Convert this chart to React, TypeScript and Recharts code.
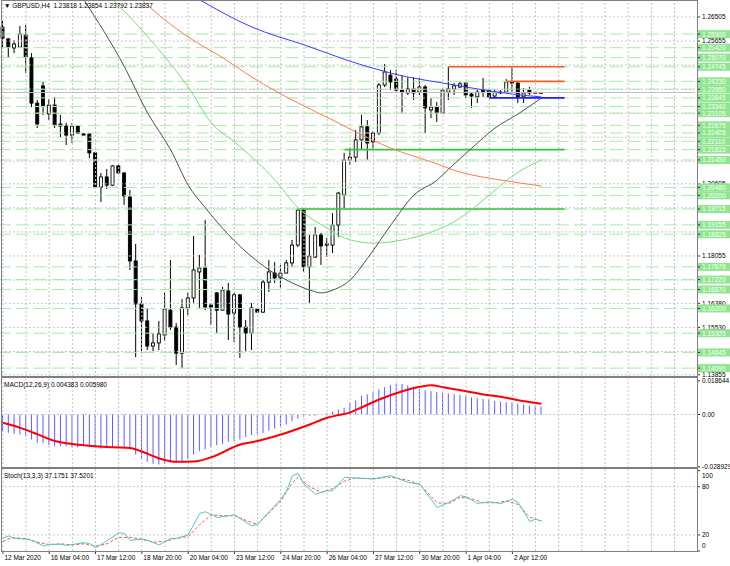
import React from 'react';
import { ComposedChart, Bar, Line, XAxis, YAxis, ReferenceLine } from 'recharts';

const FONT = '"Liberation Sans", Arial, sans-serif';
const FS = 6.5;
const SLOTS = 120;
const AXIS_X = 697;

// H4 candles, 12 Mar 20:00 .. 3 Apr 08:00
const opens = [1.2615,1.2573,1.2541,1.2544,1.2587,1.2506,1.2346,1.2407,1.2308,1.2339,
  1.2272,1.2265,1.2233,1.2265,1.2237,1.2237,1.2170,1.2049,1.2085,1.2056,
  1.2124,1.2099,1.2014,1.1788,1.1636,1.1576,1.1487,1.1498,1.1526,1.1614,
  1.1554,1.1462,1.1622,1.1657,1.1749,1.1763,1.1632,1.1675,1.1614,1.1682,
  1.1604,1.1668,1.1554,1.1533,1.1618,1.1607,1.1713,1.1745,1.1728,1.1745,
  1.1781,1.1844,1.1968,1.1767,1.1802,1.1880,1.1848,1.1844,1.1915,1.2021,
  1.2145,1.2155,1.2216,1.2262,1.2209,1.2240,1.2410,1.2445,1.2431,1.2392,
  1.2382,1.2396,1.2385,1.2403,1.2322,1.2332,1.2311,1.2385,1.2396,1.2403,
  1.2417,1.2378,1.2368,1.2392,1.2392,1.2371,1.2385,1.2385,1.2421,1.2417,
  1.2368,1.2392,1.2383,1.23818];
const highs = [1.2636,1.2576,1.2569,1.2619,1.2622,1.2523,1.2357,1.2421,1.2361,1.2368,
  1.2304,1.2276,1.2276,1.2269,1.2240,1.2240,1.2173,1.2099,1.2113,1.2127,
  1.2127,1.2102,1.2039,1.1848,1.1660,1.1622,1.1533,1.1576,1.1675,1.1791,
  1.1568,1.1653,1.1675,1.1876,1.1809,1.1933,1.1639,1.1678,1.1696,1.1710,
  1.1675,1.1671,1.1579,1.1639,1.1622,1.1721,1.1791,1.1784,1.1774,1.1791,
  1.1862,1.1975,1.1975,1.1880,1.1908,1.1887,1.1869,1.1957,1.2032,1.2170,
  1.2187,1.2251,1.2304,1.2286,1.2247,1.2417,1.2484,1.2463,1.2463,1.2445,
  1.2438,1.2438,1.2435,1.2410,1.2364,1.2350,1.2399,1.2477,1.2417,1.2421,
  1.2417,1.2385,1.2396,1.2435,1.2396,1.2396,1.2392,1.2431,1.2474,1.2421,
  1.2399,1.2403,1.2386,1.23854];
const lows = [1.2544,1.2509,1.2523,1.2544,1.2452,1.2332,1.2258,1.2304,1.2286,1.2258,
  1.2226,1.2198,1.2205,1.2237,1.2233,1.2152,1.2046,1.1996,1.2042,1.2053,
  1.2099,1.1986,1.1756,1.1448,1.1462,1.1473,1.1469,1.1473,1.1505,1.1544,
  1.1420,1.1409,1.1597,1.1639,1.1622,1.1614,1.1561,1.1533,1.1614,1.1508,
  1.1501,1.1445,1.1466,1.1473,1.1605,1.1604,1.1678,1.1710,1.1692,1.1745,
  1.1767,1.1837,1.1749,1.1639,1.1798,1.1774,1.1802,1.1816,1.1873,1.1975,
  1.2127,1.2138,1.2180,1.2145,1.2180,1.2233,1.2403,1.2392,1.2385,1.2311,
  1.2375,1.2357,1.2375,1.2240,1.2293,1.2279,1.2308,1.2357,1.2375,1.2399,
  1.2364,1.2329,1.2346,1.2368,1.2364,1.2368,1.2378,1.2382,1.2382,1.2346,
  1.2346,1.2375,1.2380,1.23792];
const closes = [1.2576,1.2544,1.2555,1.2590,1.2509,1.2346,1.2272,1.2336,1.2339,1.2269,
  1.2265,1.2233,1.2265,1.2240,1.2233,1.2170,1.2049,1.2085,1.2056,1.2124,
  1.2099,1.2018,1.1788,1.1636,1.1576,1.1487,1.1498,1.1530,1.1618,1.1554,
  1.1462,1.1622,1.1657,1.1756,1.1763,1.1625,1.1625,1.1614,1.1685,1.1600,
  1.1668,1.1554,1.1533,1.1622,1.1607,1.1713,1.1749,1.1728,1.1745,1.1781,
  1.1844,1.1968,1.1767,1.1805,1.1880,1.1841,1.1844,1.1915,1.2028,1.2145,
  1.2155,1.2216,1.2262,1.2205,1.2240,1.2410,1.2456,1.2421,1.2392,1.2385,
  1.2396,1.2382,1.2403,1.2329,1.2332,1.2311,1.2392,1.2396,1.2407,1.2414,
  1.2375,1.2371,1.2385,1.2385,1.2368,1.2385,1.2382,1.2421,1.2417,1.2368,
  1.2382,1.2382,1.2384,1.23837];

// moving averages, read at a few bars
const maBlack: [number, number][] = [[14,1.2711],[21,1.2474],[25,1.2311],[29,1.2180],[32,1.2056],[35,1.1975],
  [39,1.1880],[46,1.1756],[50,1.1710],[53,1.1685],[55,1.1675],[57,1.1685],[60,1.1721],[63,1.1798],[67,1.1915],
  [71,1.2021],[75,1.2074],[77,1.2113],[81,1.2187],[85,1.2258],[89,1.2308],[93,1.2364]];
const maGreen: [number, number][] = [[19,1.2711],[24,1.2605],[28,1.2509],[32,1.2403],[36,1.2276],[40,1.2209],
  [47,1.2074],[51,1.1975],[56,1.1904],[59,1.1869],[64,1.1851],[69,1.1862],[74,1.1890],[79,1.1940],[84,1.2021],
  [89,1.2102],[93,1.2145]];
const maOrange: [number, number][] = [[24,1.2711],[28,1.2640],[32,1.2580],[38,1.2506],[43,1.2438],[51,1.2346],
  [57,1.2286],[62,1.2233],[67,1.2187],[74,1.2138],[79,1.2102],[86,1.2074],[93,1.2053]];
const maBlue: [number, number][] = [[34,1.2711],[43,1.2615],[52,1.2552],[62,1.2481],[70,1.2438],[76,1.2417],
  [82,1.2396],[88,1.2378],[93,1.2368]];

const levelPrices = [1.25900,1.25420,1.25070,1.24745,1.24230,1.23950,1.23645,1.23340,1.23105,1.22675,
  1.22405,1.22110,1.21815,1.21450,1.20480,1.20200,1.19715,1.19155,1.18825,1.17670,1.17220,1.16870,
  1.16200,1.15325,1.14645,1.14090];
const gridPrices = [1.26505,1.25655,1.24805,1.23955,1.23105,1.22255,1.21405,1.20605,1.19755,1.18905,
  1.18055,1.17205,1.16380,1.15530,1.14680,1.13855];
const gridPriceLabels = [1.26505,1.25655,1.20605,1.18055,1.16380,1.15530,1.13855];
const bidPrice = 1.23837;

// drawn objects: [fromBar, toBar, price, colour]
const drawnLines: [number, number, number, string][] = [
  [77, 97, 1.24745, '#ff5a1e'],
  [87, 97, 1.24230, '#ff5a1e'],
  [84, 97, 1.23645, '#1e1eff'],
  [59, 97, 1.21815, '#32c832'],
  [51, 97, 1.19715, '#32c832'],
];

const macdHist = [-0.0092,-0.0101,-0.0107,-0.0111,-0.0120,-0.0138,-0.0157,-0.0157,-0.0170,-0.0175,
  -0.0175,-0.0175,-0.0181,-0.0181,-0.0175,-0.0181,-0.0184,-0.0188,-0.0184,-0.0184,
  -0.0184,-0.0181,-0.0194,-0.0221,-0.0249,-0.0262,-0.0273,-0.0277,-0.0273,-0.0267,
  -0.0267,-0.0258,-0.0243,-0.0221,-0.0203,-0.0194,-0.0181,-0.0170,-0.0162,-0.0151,
  -0.0148,-0.0138,-0.0125,-0.0114,-0.0107,-0.0101,-0.0088,-0.0077,-0.0065,-0.0055,
  -0.0037,-0.0022,-0.0011,-0.0007,-0.0007,-0.0002,0.0007,0.0015,0.0028,0.0037,
  0.0065,0.0077,0.0103,0.0111,0.0123,0.0138,0.0151,0.0162,0.0168,0.0168,
  0.0162,0.0153,0.0142,0.0134,0.0129,0.0123,0.0120,0.0116,0.0114,0.0109,
  0.0101,0.0094,0.0090,0.0087,0.0083,0.0074,0.0072,0.0068,0.0068,0.0061,
  0.0055,0.0050,0.0050,0.0044];
const macdSignal: [number, number][] = [[0,-0.0046],[3,-0.0074],[6,-0.0110],[9,-0.0147],[14,-0.0170],[19,-0.0181],
  [22,-0.0185],[24,-0.0205],[27,-0.0243],[30,-0.0262],[33,-0.0260],[36,-0.0236],[41,-0.0166],[44,-0.0147],
  [48,-0.0111],[53,-0.0055],[56,-0.0018],[58,-0.0003],[60,0.0012],[62,0.0040],[65,0.0083],[69,0.0129],
  [72,0.0153],[74,0.0162],[76,0.0151],[79,0.0134],[83,0.0111],[86,0.0098],[89,0.0079],[93,0.0060]];

const stochMain: [number, number][] = [[0,15.8],[1,18.8],[2,15.8],[4,14.6],[5,13.3],[7,6.3],[8,8.3],[10,8.3],
  [11,7],[14,10.4],[15,9.2],[16,4.2],[17,8.3],[19,17.5],[20,22.9],[21,21.7],[22,13.3],[24,14.6],[25,13.3],
  [27,7.5],[29,15.8],[30,15.8],[32,20],[34,46.7],[35,48.8],[37,41.7],[39,43.8],[40,45],[43,31.3],[44,33.3],
  [48,64.6],[49,75],[50,93.8],[51,96.7],[52,83.3],[54,70.8],[56,75],[57,75],[59,91.7],[61,90.8],[64,89.6],
  [67,93.8],[70,85.4],[72,83.3],[75,54.2],[77,60.4],[79,68.8],[80,67.5],[82,59.2],[84,61.3],[86,59.2],
  [88,64.6],[89,60.4],[91,36.7],[92,39.6],[93,37.2]];
const stochSignal: [number, number][] = [[0,12],[1,15],[2,16.5],[4,15.5],[6,11],[8,8],[10,9],[12,7.5],[14,9],
  [16,6],[18,9],[20,17],[22,17],[24,14.6],[26,11],[28,12],[30,15.8],[32,18],[34,33],[36,45],[38,44],[40,44],
  [42,38],[44,33],[46,48],[48,62],[50,85],[51,92],[53,80],[55,73],[57,78],[59,87],[61,91],[64,90],[67,92],
  [70,88],[72,83],[75,60],[77,59],[79,67],[81,65],[83,60],[85,60],[87,62],[89,58],[91,42],[93,37.5]];

const timeBars = [0, 8, 16, 24, 32, 40, 48, 56, 64, 72, 80, 88];
const timeLabels = ['12 Mar 2020', '16 Mar 04:00', '17 Mar 12:00', '18 Mar 20:00', '20 Mar 04:00',
  '23 Mar 12:00', '24 Mar 20:00', '26 Mar 04:00', '27 Mar 12:00', '30 Mar 20:00', '1 Apr 04:00', '2 Apr 12:00'];

const gridBars = Array.from({ length: 30 }, (_, n) => n * 4);

const mBlack = new Map(maBlack), mGreen = new Map(maGreen), mOrange = new Map(maOrange), mBlue = new Map(maBlue);
const mSig = new Map(macdSignal), mStK = new Map(stochMain), mStD = new Map(stochSignal);

const data = Array.from({ length: SLOTS }, (_, i) => {
  const has = i < opens.length;
  return {
    i,
    candle: has ? [lows[i], highs[i]] : null,
    o: has ? opens[i] : null,
    h: has ? highs[i] : null,
    l: has ? lows[i] : null,
    c: has ? closes[i] : null,
    maK: mBlack.get(i) ?? null,
    maG: mGreen.get(i) ?? null,
    maO: mOrange.get(i) ?? null,
    maB: mBlue.get(i) ?? null,
    hist: i < macdHist.length ? macdHist[i] : null,
    sig: mSig.get(i) ?? null,
    k: mStK.get(i) ?? null,
    d: mStD.get(i) ?? null,
  };
});

function Candle(props: any) {
  const { x, y, width, height, payload } = props;
  if (!payload || payload.o == null) return null;
  const { o, h, l, c } = payload;
  const cx = x + width / 2;
  const py = (v: number) => y + ((h - v) / (h - l)) * height;
  const top = py(Math.max(o, c));
  const bot = py(Math.min(o, c));
  return (
    <g>
      <line x1={cx} x2={cx} y1={y} y2={y + height} stroke="#000" strokeWidth={1} />
      <rect x={cx - 1.5} y={top} width={3} height={Math.max(bot - top, 0.8)}
        fill={c > o ? '#fff' : '#000'} stroke="#000" strokeWidth={0.9} />
    </g>
  );
}

const levelSet = new Set(levelPrices);

function PriceTick(props: any) {
  const { y, payload } = props;
  const v = payload.value;
  if (levelSet.has(v)) {
    return (
      <g>
        <rect x={AXIS_X + 1} y={y - 4} width={40} height={8} fill="#8ee68e" />
        <line x1={AXIS_X} x2={AXIS_X + 3} y1={y} y2={y} stroke="#333" />
        <text x={AXIS_X + 5} y={y + 2.4} fontSize={FS} fontFamily={FONT} fill="#fff">{v.toFixed(5)}</text>
      </g>
    );
  }
  return (
    <g>
      <line x1={AXIS_X} x2={AXIS_X + 3} y1={y} y2={y} stroke="#333" />
      <text x={AXIS_X + 5} y={y + 2.4} fontSize={FS} fontFamily={FONT} fill="#000">{v.toFixed(5)}</text>
    </g>
  );
}

function makeTick(fmt: (v: number) => string, shift: (v: number) => number) {
  return function Tick(props: any) {
    const { y, payload } = props;
    const v = payload.value;
    return (
      <g>
        <line x1={AXIS_X} x2={AXIS_X + 3} y1={y} y2={y} stroke="#333" />
        <text x={AXIS_X + 5} y={y + 2.4 + shift(v)} fontSize={FS} fontFamily={FONT} fill="#000">{fmt(v)}</text>
      </g>
    );
  };
}

const MacdTick = makeTick(v => (v === 0 ? '0.00' : v.toFixed(6)), () => 0);
const StochTick = makeTick(v => String(v), v => (v === 100 ? 5 : v === 0 ? -5 : 0));

// stoch chart: plot ends at 82px, svg is 97px tall
function TimeTick(props: any) {
  const { x, payload } = props;
  const idx = timeBars.indexOf(payload.value);
  return (
    <g>
      <line x1={x} x2={x} y1={82} y2={85} stroke="#333" />
      <text x={x + 1.5} y={91} fontSize={FS} fontFamily={FONT} fill="#000">{timeLabels[idx]}</text>
    </g>
  );
}

const gridStroke = '#c4c4c4';
const vGrid = gridBars.map(b => (
  <ReferenceLine key={'v' + b} x={b} stroke={gridStroke} strokeDasharray="2 2" />
));

const paneTitle: React.CSSProperties = {
  position: 'absolute', left: 4, fontFamily: FONT, fontSize: FS, color: '#000', whiteSpace: 'pre', lineHeight: 1,
};

function Frame({ top, height }: { top: number; height: number }) {
  return <div style={{ position: 'absolute', left: 1, top, width: AXIS_X - 2, height, border: '1px solid #808080', pointerEvents: 'none' }} />;
}

export default function App() {
  const yW = 730 - SLOTS * 5.79;
  return (
    <div style={{ position: 'absolute', left: 0, top: 0, width: 730, height: 566, background: '#fff', overflow: 'hidden' }}>
      <div style={{ position: 'absolute', left: 0, top: 0 }}>
        <ComposedChart width={730} height={378} data={data} margin={{ top: 1, right: 0, bottom: 1, left: 0 }}>
          <XAxis dataKey="i" scale="band" hide />
          <YAxis orientation="right" type="number" domain={[1.13776, 1.27071]} allowDataOverflow width={yW}
            ticks={[...gridPriceLabels, ...levelPrices]} interval={0} tick={<PriceTick />} axisLine={false} tickLine={false} />
          {vGrid}
          {gridPrices.map(p => <ReferenceLine key={'g' + p} y={p} stroke={gridStroke} strokeDasharray="2 2" />)}
          {levelPrices.map(p => <ReferenceLine key={'l' + p} y={p} stroke="#a6eca6" strokeDasharray="13 5" />)}
          <ReferenceLine y={bidPrice} stroke="#c0c0c0" />
          {drawnLines.map(([a, b, p, col]) => (
            <ReferenceLine key={'d' + a + p} segment={[{ x: a, y: p }, { x: b, y: p }]} stroke={col} strokeWidth={1.6} />
          ))}
          <Line dataKey="maB" type="monotone" stroke="#3c3cff" dot={false} connectNulls isAnimationActive={false} />
          <Line dataKey="maO" type="monotone" stroke="#ff7a50" dot={false} connectNulls isAnimationActive={false} />
          <Line dataKey="maG" type="monotone" stroke="#78dc78" dot={false} connectNulls isAnimationActive={false} />
          <Line dataKey="maK" type="monotone" stroke="#505050" dot={false} connectNulls isAnimationActive={false} />
          <Bar dataKey="candle" barSize={5} shape={<Candle />} isAnimationActive={false} />
        </ComposedChart>
      </div>
      <div style={{ position: 'absolute', left: 0, top: 374 }}>
        <ComposedChart width={730} height={99} data={data} margin={{ top: 5, right: 0, bottom: 5, left: 0 }}>
          <XAxis dataKey="i" scale="band" hide />
          <YAxis orientation="right" type="number" domain={[-0.02959, 0.01963]} allowDataOverflow width={yW}
            ticks={[0.018644, 0, -0.028929]} interval={0} tick={<MacdTick />} axisLine={false} tickLine={false} />
          {vGrid}
          <ReferenceLine y={0} stroke={gridStroke} strokeDasharray="2 2" />
          <Bar dataKey="hist" barSize={1} fill="#5c5cff" isAnimationActive={false} />
          <Line dataKey="sig" type="monotone" stroke="#ff0000" strokeWidth={2} dot={false} connectNulls isAnimationActive={false} />
        </ComposedChart>
      </div>
      <div style={{ position: 'absolute', left: 0, top: 469 }}>
        <ComposedChart width={730} height={97} data={data} margin={{ top: 0, right: 0, bottom: 0, left: 0 }}>
          <XAxis dataKey="i" scale="band" height={15} ticks={timeBars} interval={0} tick={<TimeTick />}
            axisLine={false} tickLine={false} />
          <YAxis orientation="right" type="number" domain={[0, 102.1]} allowDataOverflow width={yW}
            ticks={[100, 80, 20, 0]} interval={0} tick={<StochTick />} axisLine={false} tickLine={false} />
          {vGrid}
          <ReferenceLine y={80} stroke={gridStroke} strokeDasharray="2 2" />
          <ReferenceLine y={20} stroke={gridStroke} strokeDasharray="2 2" />
          <Line dataKey="d" type="linear" stroke="#ff5050" strokeDasharray="3 2" dot={false} connectNulls isAnimationActive={false} />
          <Line dataKey="k" type="linear" stroke="#4cc8c8" dot={false} connectNulls isAnimationActive={false} />
        </ComposedChart>
      </div>
      <Frame top={0} height={375} />
      <Frame top={377} height={89} />
      <Frame top={468} height={82} />
      <div style={{ ...paneTitle, top: 3 }}>{'\u25BC GBPUSD,H4  1.23818 1.23854 1.23792 1.23837'}</div>
      <div style={{ ...paneTitle, top: 382 }}>{'MACD(12,26,9) 0.004383 0.005980'}</div>
      <div style={{ ...paneTitle, top: 473 }}>{'Stoch(13,3,3) 37.1751 37.5201'}</div>
    </div>
  );
}
